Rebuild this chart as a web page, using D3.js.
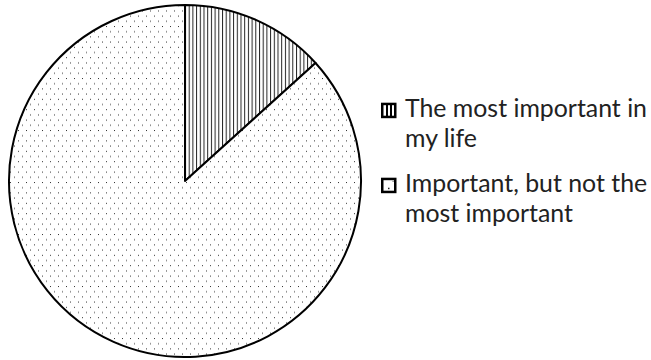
<!DOCTYPE html>
<html><head><meta charset="utf-8">
<script src="https://cdn.jsdelivr.net/npm/d3@7"></script>
<style>html,body{margin:0;padding:0;background:#fff;}</style>
</head><body>
<svg id="c" width="651" height="360"></svg>
<script>
const categories = ["The most important in my life", "Important, but not the most important"];
const values = [13.3, 86.7];
const legendLines = [["The most important in", "my life"], ["Important, but not the", "most important"]];
const patterns = ["vlines", "dots"];

const svg = d3.select("#c");
const defs = svg.append("defs");
// vertical hatch
const pv = defs.append("pattern").attr("id","vlines").attr("patternUnits","userSpaceOnUse")
  .attr("width",3.7).attr("height",10);
pv.append("rect").attr("width",3.7).attr("height",10).attr("fill","#fff");
pv.append("line").attr("x1",0.5).attr("x2",0.5).attr("y1",0).attr("y2",10).attr("stroke","#222").attr("stroke-width",1);
// dots (staggered)
const pd = defs.append("pattern").attr("id","dots").attr("patternUnits","userSpaceOnUse")
  .attr("width",8).attr("height",10.4).attr("x",1).attr("y",1);
pd.append("rect").attr("width",8).attr("height",10.4).attr("fill","#fff");
pd.append("rect").attr("x",0).attr("y",0).attr("width",1).attr("height",1).attr("fill","#333");
pd.append("rect").attr("x",4).attr("y",5.2).attr("width",1).attr("height",1).attr("fill","#333");

const cx = 185, cy = 181, r = 176;
const pie = d3.pie().sort(null).value(d => d)(values);
const arc = d3.arc().innerRadius(0).outerRadius(r);
const g = svg.append("g").attr("transform", `translate(${cx},${cy})`);
g.selectAll("path").data(pie).join("path")
  .attr("d", arc)
  .attr("fill", (d,i) => `url(#${patterns[i]})`)
  .attr("stroke", "#000").attr("stroke-width", 2).attr("stroke-linejoin","round");

// legend
const lx = 381, textX = 405;
const baselines = [116.7, 191.7];
const lineH = 30;
const leg = svg.append("g");
const fontFam = "Lato, 'Open Sans', sans-serif";
const probe = leg.append("text").attr("font-family", fontFam).attr("font-size", 20).text(legendLines[0][0]);
const w20 = probe.node().getComputedTextLength();
probe.remove();
const fs = 20 * 242 / w20;

categories.forEach((c, i) => {
  const b = baselines[i];
  const top = b - 14;
  const sq = leg.append("g");
  sq.append("rect").attr("x", lx+1.25).attr("y", top+1.25).attr("width", 13).attr("height", 13)
    .attr("fill", "#fff").attr("stroke", "#000").attr("stroke-width", 2.5);
  if (patterns[i] === "vlines") {
    [lx+6, lx+10].forEach(x => sq.append("line").attr("x1", x).attr("x2", x)
      .attr("y1", top+1).attr("y2", top+14).attr("stroke", "#000").attr("stroke-width", 2));
  } else {
    sq.append("rect").attr("x", lx+7).attr("y", top+10).attr("width", 1.5).attr("height", 1.5).attr("fill", "#222");
    sq.append("rect").attr("x", lx+11.5).attr("y", top+3).attr("width", 1.2).attr("height", 1.2).attr("fill", "#666");
  }
  const t = leg.append("text").attr("font-family", fontFam).attr("font-size", fs).attr("fill", "#222");
  legendLines[i].forEach((ln, j) => t.append("tspan").attr("x", textX).attr("y", b + j*lineH).text(ln));
});
</script>
</body></html>
